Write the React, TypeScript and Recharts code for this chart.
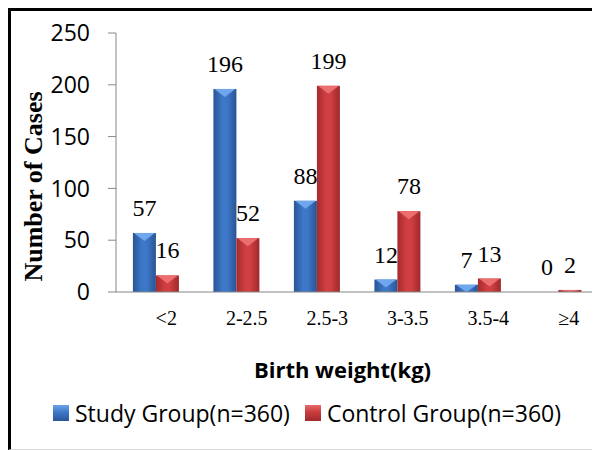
import React from 'react';
import { BarChart, Bar, XAxis, YAxis, LabelList, Legend } from 'recharts';

const weightBands = ['<2', '2-2.5', '2.5-3', '3-3.5', '3.5-4', '≥4'];
const studyGroup = [57, 196, 88, 12, 7, 0];
const controlGroup = [16, 52, 199, 78, 13, 2];
const yTicks = [0, 50, 100, 150, 200, 250];

const chartData = weightBands.map((band, i) => ({
  band,
  study: studyGroup[i],
  control: controlGroup[i],
}));

const sans = '"Open Sans", "Noto Sans", sans-serif';
const serif = '"Liberation Serif", "Times New Roman", serif';

// bar with a lighter bevel on top, like the office 3d look
const BevelBar = (props: any) => {
  const { x, y, width, height, gradId, topColor } = props;
  if (!height || height <= 0) return null;
  const cap = Math.min(8, height);
  return (
    <g>
      <rect x={x} y={y} width={width} height={height} fill={`url(#${gradId})`} />
      <polygon
        points={`${x + 1},${y} ${x + width - 1},${y} ${x + width / 2},${y + cap}`}
        fill={topColor}
      />
    </g>
  );
};

const YTitle = (props: any) => {
  const { viewBox } = props;
  const cx = viewBox.x + 22;
  const cy = viewBox.y + viewBox.height / 2 + 24;
  return (
    <text
      x={cx}
      y={cy}
      transform={`rotate(-90 ${cx} ${cy})`}
      textAnchor="middle"
      dominantBaseline="central"
      style={{ fontFamily: serif, fontSize: 26, fontWeight: 'bold', fill: '#000' }}
    >
      Number of Cases
    </text>
  );
};

const XTitle = (props: any) => {
  const { viewBox } = props;
  return (
    <text
      x={viewBox.x + viewBox.width / 2 - 15}
      y={viewBox.y + 77}
      textAnchor="middle"
      dominantBaseline="central"
      style={{ fontFamily: sans, fontSize: 22, fontWeight: 'bold', fill: '#000' }}
    >
      Birth weight(kg)
    </text>
  );
};

const renderLegend = () => {
  const items = [
    { label: 'Study Group(n=360)', grad: 'linear-gradient(180deg, #6fa3e8 0%, #3d78c8 45%, #2b5797 100%)' },
    { label: 'Control Group(n=360)', grad: 'linear-gradient(180deg, #e86a6a 0%, #c93c3e 45%, #a02a2c 100%)' },
  ];
  return (
    <div style={{ display: 'flex', alignItems: 'center', paddingLeft: 42, fontFamily: sans, fontSize: 23, color: '#000' }}>
      {items.map((it, i) => (
        <div key={`lg-${i}`} style={{ display: 'flex', alignItems: 'center', marginRight: 15 }}>
          <div style={{ width: 16, height: 16, background: it.grad, marginRight: 6 }} />
          <span>{it.label}</span>
        </div>
      ))}
    </div>
  );
};

export default function App() {
  return (
    <div
      style={{
        width: 588,
        height: 438,
        position: 'relative',
        background: '#fff',
        borderTop: '3px solid #000',
        borderLeft: '3px solid #000',
        borderRight: '1px solid #d9d9d9',
        borderBottom: '1px solid #d9d9d9',
      }}
    >
      <BarChart
        width={588}
        height={438}
        data={chartData}
        margin={{ top: 22, right: 0, bottom: 0, left: 0 }}
        barCategoryGap="21%"
        barGap={0}
      >
        <defs>
          <linearGradient id="blueGrad" x1="0" y1="0" x2="1" y2="0">
            <stop offset="0%" stopColor="#2a5595" />
            <stop offset="40%" stopColor="#3d78c8" />
            <stop offset="60%" stopColor="#3d78c8" />
            <stop offset="100%" stopColor="#2a5494" />
          </linearGradient>
          <linearGradient id="redGrad" x1="0" y1="0" x2="1" y2="0">
            <stop offset="0%" stopColor="#a52b2d" />
            <stop offset="40%" stopColor="#d03f41" />
            <stop offset="60%" stopColor="#d03f41" />
            <stop offset="100%" stopColor="#9e292b" />
          </linearGradient>
        </defs>
        <XAxis
          dataKey="band"
          height={157}
          axisLine={{ stroke: '#868686' }}
          tickLine={false}
          tickSize={0}
          tickMargin={19}
          interval={0}
          tick={{ fontFamily: serif, fontSize: 20, fill: '#000', dx: 10 }}
          label={<XTitle />}
        />
        <YAxis
          width={105}
          domain={[0, 250]}
          ticks={yTicks}
          axisLine={{ stroke: '#868686' }}
          tickLine={{ stroke: '#868686' }}
          tickSize={8}
          tickMargin={18}
          tick={{ fontFamily: sans, fontSize: 23, fill: '#000' }}
          label={<YTitle />}
        />
        <Legend
          verticalAlign="middle"
          align="center"
          layout="horizontal"
          content={renderLegend}
          wrapperStyle={{ top: 386, left: 0, width: 588 }}
        />
        <Bar
          dataKey="study"
          name="Study Group(n=360)"
          isAnimationActive={false}
          fill="#3d78c8"
          shape={(p: any) => <BevelBar {...p} gradId="blueGrad" topColor="#6fa6ec" />}
        >
          <LabelList
            dataKey="study"
            position="top"
            offset={17}
            style={{ fontFamily: serif, fontSize: 24, fill: '#000' }}
          />
        </Bar>
        <Bar
          dataKey="control"
          name="Control Group(n=360)"
          isAnimationActive={false}
          fill="#c93c3e"
          shape={(p: any) => <BevelBar {...p} gradId="redGrad" topColor="#ec6e6e" />}
        >
          <LabelList
            dataKey="control"
            position="top"
            offset={17}
            style={{ fontFamily: serif, fontSize: 24, fill: '#000' }}
          />
        </Bar>
      </BarChart>
    </div>
  );
}
